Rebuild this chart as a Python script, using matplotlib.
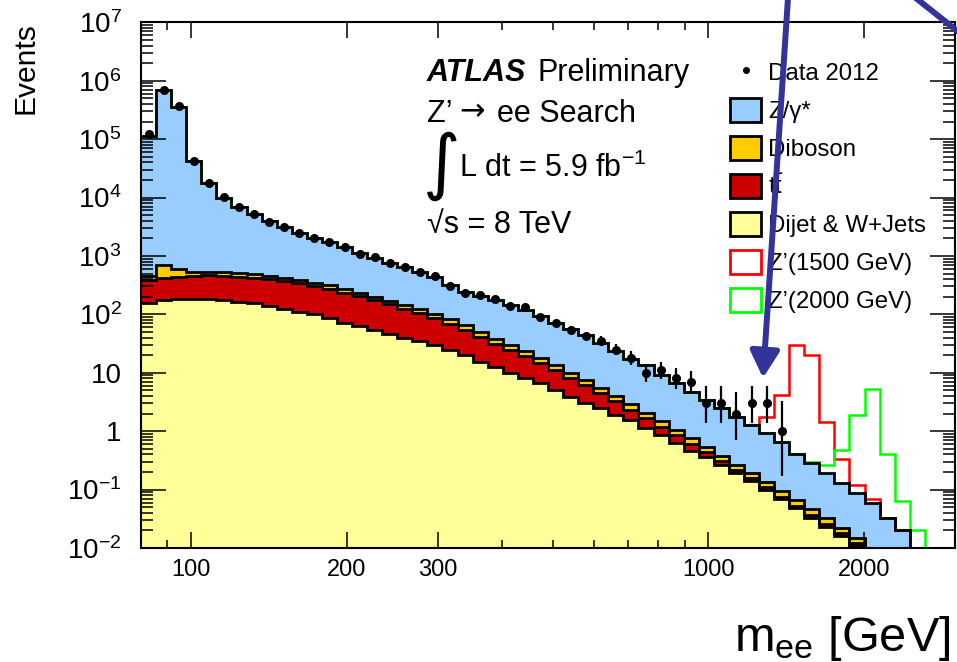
import numpy as np
import matplotlib
matplotlib.use('Agg')
import matplotlib.pyplot as plt
from matplotlib.patches import Patch, FancyArrowPatch, ArrowStyle
from matplotlib.lines import Line2D
from matplotlib.ticker import LogLocator, NullFormatter, FuncFormatter

plt.rcParams['font.family'] = ['Liberation Sans', 'DejaVu Sans']
plt.rcParams['mathtext.fontset'] = 'custom'
plt.rcParams['mathtext.rm'] = 'Liberation Sans'
plt.rcParams['mathtext.it'] = 'Liberation Sans:italic'
plt.rcParams['mathtext.bf'] = 'Liberation Sans:bold'

W, H = 957, 662

# 54 log-spaced mass bins, 80 - 3000 GeV
edges = np.geomspace(80, 3000, 55)

dijet = [154, 176, 182, 185, 183, 176, 165, 154, 139, 123,
         111, 100, 86, 71, 63, 55, 47, 40, 35, 30,
         24.5, 20, 15.5, 12.4, 9.8, 8.0, 6.6, 5.0, 3.9, 3.06,
         2.46, 1.89, 1.55, 1.15, 0.85, 0.62, 0.46, 0.36, 0.26, 0.19,
         0.14, 0.10, 0.068, 0.048, 0.033, 0.023, 0.016, 0.011, 0.007, 0.005,
         0.0035, 0.0025, 0.0018, 0.0012]
ttbar = [232, 240, 262, 272, 280, 282, 278, 272, 260, 250,
         230, 208, 190, 165, 140, 120, 101, 83, 69, 56,
         45, 34, 26, 19, 14.5, 11.5, 8.3, 6.0, 4.2, 3.0,
         2.0, 1.35, 0.8, 0.52, 0.35, 0.23, 0.15, 0.085, 0.05, 0.028,
         0.017, 0.011, 0.007, 0.005, 0.004, 0.003, 0.002, 0.0012, 0.0009, 0.0006,
         0.0004, 0.0003, 0.0002, 0.0002]
diboson = [60, 280, 150, 75, 68, 64, 62, 58, 54, 50,
           46, 42, 38, 34, 30, 26, 23, 20, 17.5, 15,
           12.5, 10.5, 8.5, 6.5, 5.2, 4.3, 3.2, 2.4, 1.8, 1.35,
           1.0, 0.72, 0.52, 0.38, 0.27, 0.19, 0.14, 0.10, 0.068, 0.048,
           0.035, 0.026, 0.018, 0.013, 0.009, 0.006, 0.004, 0.0027, 0.0015, 0.001,
           0.0006, 0.0004, 0.0003, 0.0002]
zgamma = [112500, 690000, 360000, 42500, 17000, 9480, 6490, 4700, 3450, 2680,
          2115, 1700, 1385, 1130, 885, 730, 589, 497, 418, 339,
          238, 176, 155, 137, 116, 96, 74, 58.6, 47, 36.6,
          27.5, 20, 14.2, 11.45, 7.8, 5.56, 3.95, 2.86, 2.12, 1.49,
          1.08, 0.81, 0.567, 0.344, 0.234, 0.163, 0.106, 0.071, 0.0485, 0.026,
          0.0155, 0.006, 0.003, 0.0015]
zp1500 = [0] * 41 + [0.8, 3.5, 29.5, 19.7, 1.25, 0.21, 0.035, 0.01, 0, 0, 0, 0, 0]
zp2000 = [0] * 44 + [0.02, 0.065, 0.35, 1.8, 5.3, 0.38, 0.043, 0.011, 0.002, 0]
data = [120000, 690000, 370000, 43000, 17500, 10300, 7000, 5200, 3860, 3160,
        2500, 2050, 1750, 1400, 1100, 946, 747, 653, 537, 447,
        305, 229, 214, 181, 140, 132, 89, 70, 54, 43,
        35, 25, 18, 10, 11, 8, 7, 3, 3, 2,
        3, 3, 1, 0, 0, 0, 0, 0, 0, 0,
        0, 0, 0, 0]

xticks = [100, 200, 300, 1000, 2000]
xtick_labels = ['100', '200', '300', '1000', '2000']
xminor = [90, 400, 500, 600, 700, 800, 900]

fig = plt.figure(figsize=(W / 100, H / 100), dpi=100)
ax = fig.add_axes([141 / W, 1 - 548 / H, (955 - 141) / W, (548 - 22.3) / H])

# stacked backgrounds
layers = [(dijet, '#ffff99'), (ttbar, '#cc0000'), (diboson, '#ffcc00'), (zgamma, '#99ccff')]
base = np.zeros(len(dijet))
tops = []
for vals, col in layers:
    top = base + np.array(vals)
    ax.stairs(top, edges, baseline=np.maximum(base, 1e-5), fill=True, color=col, lw=0, zorder=1)
    tops.append(top)
    base = top
total = base

# signals on top of background
ax.stairs(total + np.array(zp1500), edges, baseline=None, color='#ff0000', lw=1.8, zorder=2)
ax.stairs(total + np.array(zp2000), edges, baseline=None, color='#00ff00', lw=1.8, zorder=2)

for top in tops:
    ax.stairs(top, edges, baseline=None, color='k', lw=2.0, zorder=3)

# data with poisson errors
centers = np.sqrt(edges[:-1] * edges[1:])
d = np.array(data, dtype=float)
m = d > 0
n = d[m]
lo = n * (1 - 1 / (9 * n) - 1 / (3 * np.sqrt(n))) ** 3
hi = (n + 1) * (1 - 1 / (9 * (n + 1)) + 1 / (3 * np.sqrt(n + 1))) ** 3
ax.errorbar(centers[m], n, yerr=[n - lo, hi - n], fmt='o', color='k', ms=5.5,
            elinewidth=1.6, capsize=0, zorder=5)

ax.set_xscale('log')
ax.set_yscale('log')
ax.set_xlim(80, 3000)
ax.set_ylim(1e-2, 1e7)

ax.set_xticks(xticks, labels=xtick_labels)
ax.set_xticks(xminor, minor=True)
ax.xaxis.set_minor_formatter(NullFormatter())


def ylab(v, pos):
    e = int(round(np.log10(v)))
    if e == 0:
        return '1'
    if e == 1:
        return '10'
    return r'$\mathdefault{10^{%d}}$' % e


ax.yaxis.set_major_locator(LogLocator(base=10, numticks=20))
ax.yaxis.set_minor_locator(LogLocator(base=10, subs=np.arange(2, 10), numticks=20))
ax.yaxis.set_major_formatter(FuncFormatter(ylab))
ax.yaxis.set_minor_formatter(NullFormatter())

ax.tick_params(axis='y', which='major', direction='in', right=True, length=18, width=1.1,
               labelsize=20, pad=14)
ax.tick_params(axis='y', which='minor', direction='in', right=True, length=8.6, width=1.1)
ax.tick_params(axis='x', which='major', direction='in', top=True, length=11.5, width=1.1,
               labelsize=17, pad=8)
ax.tick_params(axis='x', which='minor', direction='in', top=True, length=5.8, width=1.1)
for s in ax.spines.values():
    s.set_linewidth(1.5)
    s.set_zorder(6)

# legend
handles = [Line2D([], [], marker='o', ls='none', color='k', ms=4),
           Patch(facecolor='#99ccff', edgecolor='k', lw=2),
           Patch(facecolor='#ffcc00', edgecolor='k', lw=2),
           Patch(facecolor='#cc0000', edgecolor='k', lw=2),
           Patch(facecolor='#ffff99', edgecolor='k', lw=2),
           Patch(facecolor='white', edgecolor='#ff0000', lw=2),
           Patch(facecolor='white', edgecolor='#00ff00', lw=2)]
labels = ['Data 2012', 'Z/γ*', 'Diboson', r'$\mathrm{t\bar{t}}$', 'Dijet & W+Jets',
          'Z’(1500 GeV)', 'Z’(2000 GeV)']
ax.legend(handles, labels, loc='upper left', bbox_to_anchor=(730 / W, 1 - 60 / H),
          bbox_transform=fig.transFigure, frameon=False, fontsize=17.3,
          handlelength=1.3, handleheight=1.17, handletextpad=0.3, labelspacing=0.53,
          borderpad=0, borderaxespad=0)


def fx(x, y):
    return x / W, 1 - y / H


fs = 22
fig.text(*fx(427, 81), 'ATLAS', fontsize=fs, weight='bold', style='italic')
fig.text(*fx(538, 81), 'Preliminary', fontsize=fs)
fig.text(*fx(427, 122), 'Z’', fontsize=fs)
fig.text(*fx(459, 120), '→', fontsize=fs, family='DejaVu Sans')
fig.text(*fx(497, 122), 'ee Search', fontsize=fs)
fig.text(*fx(423, 186), '∫', fontsize=52, family='DejaVu Sans')
fig.text(*fx(459, 177), r'L dt = 5.9 fb$^{\mathdefault{-1}}$', fontsize=fs)
fig.text(*fx(427, 233), '√s = 8 TeV', fontsize=fs)

fig.text(*fx(26, 22), 'Events', rotation=90, ha='center', va='top', fontsize=21.6)
fig.text(*fx(950, 651), r'm$_{\mathdefault{ee}}$ [GeV]', ha='right', va='baseline', fontsize=35)

# annotation arrows
arr = FancyArrowPatch(fx(788, -2), fx(763, 378), transform=fig.transFigure,
                      arrowstyle=ArrowStyle('-|>', head_length=1.0, head_width=0.55),
                      mutation_scale=16, lw=4.3, color='#333399', shrinkA=0, shrinkB=0)
fig.add_artist(arr)
fig.add_artist(Line2D([912 / W, 975 / W], [1 + 5 / H, 1 - 45 / H], transform=fig.transFigure,
                      lw=4.3, color='#333399'))

fig.savefig('out.png', dpi=100)
